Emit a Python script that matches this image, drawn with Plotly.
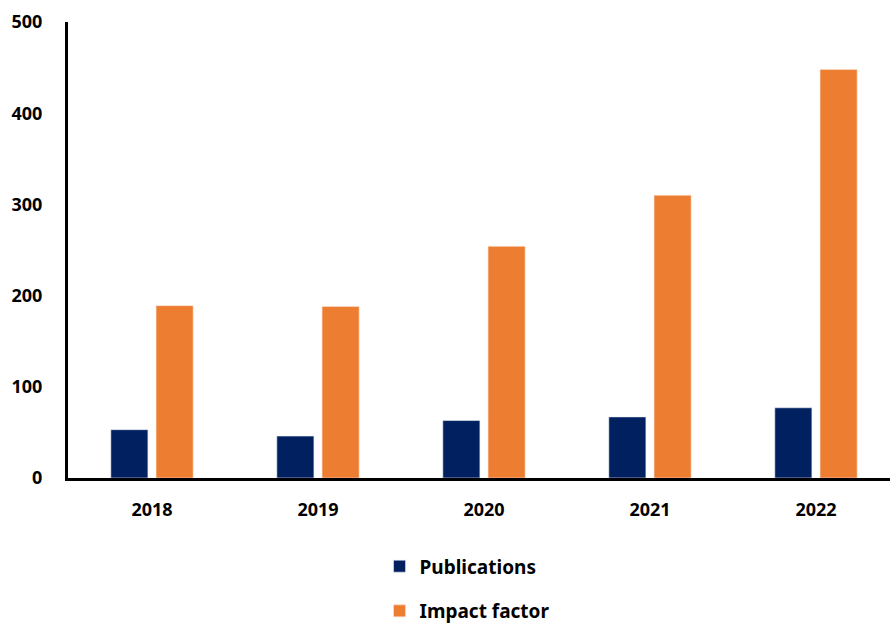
import plotly.graph_objects as go

years = ["2018", "2019", "2020", "2021", "2022"]
publications = [53, 46, 63, 67, 77]
impact_factor = [189, 188, 254, 310, 448]
y_ticks = [0, 100, 200, 300, 400, 500]

NAVY = "#002060"
ORANGE = "#ED7D31"
FONT = "Noto Sans"

fig = go.Figure()
fig.add_trace(go.Bar(
    x=years, y=publications, name="Publications",
    marker=dict(color=NAVY, line=dict(color="#e8ecf5", width=0.6)),
    legendgroup="pub",
))
fig.add_trace(go.Bar(
    x=years, y=impact_factor, name="Impact factor",
    marker=dict(color=ORANGE, line=dict(color="#fbe3d3", width=0.6)),
    legendgroup="imp",
))

fig.update_layout(
    width=890, height=625,
    margin=dict(l=68, r=0, t=22, b=147, autoexpand=False),
    paper_bgcolor="white", plot_bgcolor="white",
    barmode="group", bargap=0.455, bargroupgap=0.18,
    font=dict(family=FONT, size=18, color="black"),
    showlegend=True,
    legend=dict(
        orientation="v", x=0.379, xanchor="left", y=-0.152, yanchor="top",
        font=dict(family=FONT, size=19, color="black", weight="bold"),
        tracegroupgap=17, itemwidth=30,
    ),
    xaxis=dict(
        type="category", range=[-0.506, 4.446],
        showline=True, linecolor="black", linewidth=3,
        showgrid=False, ticks="", ticklabelstandoff=13,
        tickfont=dict(family=FONT, size=18, color="black", weight="bold"),
    ),
    yaxis=dict(
        range=[0, 500], tickvals=y_ticks,
        showline=True, linecolor="black", linewidth=3,
        showgrid=False, zeroline=False, ticks="", ticklabelstandoff=19,
        tickfont=dict(family=FONT, size=18, color="black", weight="bold"),
    ),
)

fig.write_html("out.html")
